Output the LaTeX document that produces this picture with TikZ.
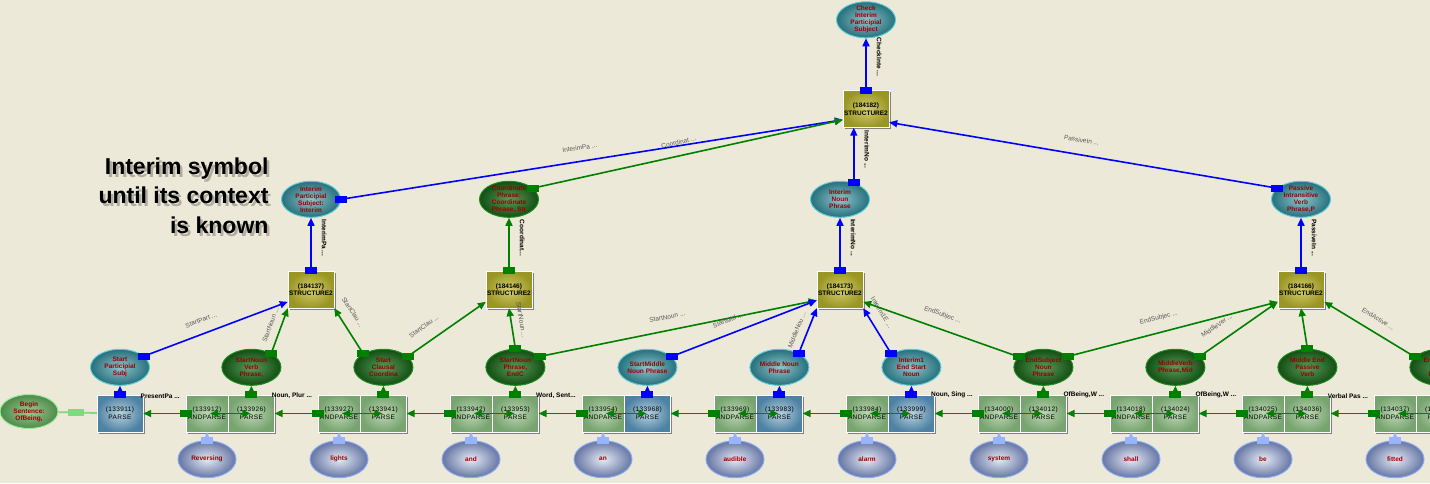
\documentclass[tikz,border=0pt]{standalone}
\usepackage{fontspec}
\setmainfont{Liberation Sans}
\usetikzlibrary{arrows.meta,positioning,shadows,shapes.geometric}
\definecolor{beige}{HTML}{ECE9D8}
\definecolor{tealin}{HTML}{8EC4CC}
\definecolor{tealout}{HTML}{26707C}
\definecolor{tealrim}{HTML}{5CCAD6}
\definecolor{greenin}{HTML}{5A9A5A}
\definecolor{greenout}{HTML}{134E13}
\definecolor{greenrim}{HTML}{1F8A1F}
\definecolor{wordin}{HTML}{E6EAF4}
\definecolor{wordout}{HTML}{6676A4}
\definecolor{wordrim}{HTML}{8AAAF2}
\definecolor{beginin}{HTML}{9CC894}
\definecolor{beginout}{HTML}{4E8A4A}
\definecolor{beginrim}{HTML}{98EC98}
\definecolor{olivein}{HTML}{D4CE6C}
\definecolor{oliveout}{HTML}{9A9624}
\definecolor{boxin}{HTML}{BCD6B4}
\definecolor{boxout}{HTML}{78A470}
\definecolor{steelin}{HTML}{B8D2DE}
\definecolor{steelout}{HTML}{4E82A4}
\definecolor{symred}{HTML}{990000}
\definecolor{linkblue}{HTML}{0000FF}
\definecolor{linkgreen}{HTML}{008000}
\definecolor{linksky}{HTML}{99B4FF}
\definecolor{linklime}{HTML}{80D880}
\newcommand{\tinyfont}{\fontsize{6.5}{7}\selectfont}
\newcommand{\boxfont}{\fontsize{6.5}{8}\selectfont\addfontfeature{LetterSpace=6}}

\begin{document}
\begin{tikzpicture}[x=1pt,y=-1pt,
  every node/.style={font=\tinyfont},
  parsebox/.style={rectangle,draw=white,shading=radial,inner color=boxin,outer color=boxout,
                   minimum width=46pt,minimum height=37pt,inner sep=0pt,align=center,font=\boxfont,
                   drop shadow={shadow xshift=1.5pt,shadow yshift=-1.5pt,fill=gray,opacity=1}},
  andbox/.style={parsebox,minimum width=42pt},
  bluebox/.style={parsebox,inner color=steelin,outer color=steelout},
  structbox/.style={parsebox,inner color=olivein,outer color=oliveout,
                    font=\fontsize{6.5}{7.5}\selectfont\bfseries},
  symbol/.style={ellipse,minimum width=59pt,minimum height=36pt,inner sep=-2pt,align=center,
                 text=symred,font=\tinyfont\bfseries,line width=1pt,shading=radial},
  tealsym/.style={symbol,draw=tealrim,inner color=tealin,outer color=tealout},
  greensym/.style={symbol,draw=greenrim,inner color=greenin,outer color=greenout},
  wordsym/.style={symbol,minimum width=58pt,minimum height=37pt,draw=wordrim,
                  inner color=wordin,outer color=wordout},
  blink/.style={draw=linkblue,line width=1.6pt,-{Triangle[length=8pt,width=7pt]}},
  glink/.style={blink,draw=linkgreen},
  skylink/.style={blink,draw=linksky,line width=1.8pt},
  limelink/.style={draw=linklime,line width=1.8pt},
  pairlink/.style={glink,{Triangle[length=8pt,width=7pt]}-{Triangle[length=8pt,width=7pt]},
                   shorten <=3pt,shorten >=1pt},
  bsq/.style={rectangle,fill=linkblue,minimum width=12pt,minimum height=7pt,inner sep=0pt},
  gsq/.style={bsq,fill=linkgreen},
  skysq/.style={bsq,fill=linksky},
  limesq/.style={bsq,fill=linklime,minimum width=8pt},
  slant/.style={sloped,text=black!65},
  vtag/.style={rotate=-90,anchor=south,inner sep=10pt,font=\tinyfont\bfseries},
  htag/.style={font=\tinyfont\bfseries}
]
  \useasboundingbox (0,0) rectangle (1430,483);
  \clip (0,0) rectangle (1430,483);
  \fill[beige] (0,0) rectangle (1430,483);

  % note
  \node[align=right,anchor=east,font=\fontsize{23}{29.5}\selectfont\bfseries,text=black,opacity=.25]
    (noteshade) at (274.5,198.5) {Interim symbol\\until its context\\is known};
  \node[align=right,anchor=east,font=\fontsize{23}{29.5}\selectfont\bfseries]
    (note) at (272,195.5) {Interim symbol\\until its context\\is known};

  % parse chain
  \node[symbol,draw=beginrim,inner color=beginin,outer color=beginout,minimum width=58pt,
        minimum height=34pt] (bsent) at (29,411.5) {Begin\\Sentence:\\OfBeing,};
  \node[bluebox] (p911) at (120,413.5) {(133911)\\PARSE};
  \node[andbox] (a912) at (207,413.5) {(133912)\\ANDPARSE};
  \node[parsebox,right=0pt of a912] (p926) {(133926)\\PARSE};
  \node[andbox] (a927) at (339,413.5) {(133927)\\ANDPARSE};
  \node[parsebox,right=0pt of a927] (p941) {(133941)\\PARSE};
  \node[andbox] (a942) at (471,413.5) {(133942)\\ANDPARSE};
  \node[parsebox,right=0pt of a942] (p953) {(133953)\\PARSE};
  \node[andbox] (a954) at (603,413.5) {(133954)\\ANDPARSE};
  \node[bluebox,right=0pt of a954] (p968) {(133968)\\PARSE};
  \node[andbox] (a969) at (735,413.5) {(133969)\\ANDPARSE};
  \node[bluebox,right=0pt of a969] (p983) {(133983)\\PARSE};
  \node[andbox] (a984) at (867,413.5) {(133984)\\ANDPARSE};
  \node[bluebox,right=0pt of a984] (p999) {(133999)\\PARSE};
  \node[andbox] (a000) at (999,413.5) {(134000)\\ANDPARSE};
  \node[parsebox,right=0pt of a000] (p012) {(134012)\\PARSE};
  \node[andbox] (a018) at (1131,413.5) {(134018)\\ANDPARSE};
  \node[parsebox,right=0pt of a018] (p024) {(134024)\\PARSE};
  \node[andbox] (a025) at (1263,413.5) {(134025)\\ANDPARSE};
  \node[parsebox,right=0pt of a025] (p036) {(134036)\\PARSE};
  \node[andbox] (a037) at (1395,413.5) {(134037)\\ANDPARSE};
  \node[parsebox,right=0pt of a037] (p049) {(134049)\\PARSE};

  % words
  \node[wordsym,below=8pt of a912] (wrev) {Reversing};
  \node[wordsym,below=8pt of a927] (wlig) {lights};
  \node[wordsym,below=8pt of a942] (wand) {and};
  \node[wordsym,below=8pt of a954] (wan) {an};
  \node[wordsym,below=8pt of a969] (waud) {audible};
  \node[wordsym,below=8pt of a984] (wala) {alarm};
  \node[wordsym,below=8pt of a000] (wsys) {system};
  \node[wordsym,below=8pt of a018] (wsha) {shall};
  \node[wordsym,below=8pt of a025] (wbe) {be};
  \node[wordsym,below=8pt of a037] (wfit) {fitted};

  % first symbols
  \node[tealsym,above=9pt of p911] (spsubj) {Start\\Participial\\Subj};
  \node[greensym,above=9pt of p926] (snvp) {StartNoun\\Verb\\Phrase,};
  \node[greensym,above=9pt of p941] (sclc) {Start\\Clausal\\Coordina};
  \node[greensym,above=9pt of p953] (snpe) {StartNoun\\Phrase,\\EndC};
  \node[tealsym,above=9pt of p968] (smnp) {StartMiddle\\Noun Phrase};
  \node[tealsym,above=9pt of p983] (mnp) {Middle Noun\\Phrase};
  \node[tealsym,above=9pt of p999] (iesn) {Interim1\\End Start\\Noun};
  \node[greensym,above=9pt of p012] (esnp) {EndSubject\\Noun\\Phrase};
  \node[greensym,above=9pt of p024] (mvp) {MiddleVerb\\Phrase,Mid};
  \node[greensym,above=9pt of p036] (mepv) {Middle End\\Passive\\Verb};
  \node[greensym,above=9pt of p049] (eavp) {EndActive\\Verb\\Phrase};

  % structures
  \node[structbox] (s137) at (311,289.5) {(184137)\\STRUCTURE2};
  \node[structbox] (s146) at (509,289.5) {(184146)\\STRUCTURE2};
  \node[structbox] (s173) at (840,289.5) {(184173)\\STRUCTURE2};
  \node[structbox] (s166) at (1301,289.5) {(184166)\\STRUCTURE2};
  \node[tealsym,above=53pt of s137] (ips) {Interim\\Participial\\Subject:\\Interim};
  \node[greensym,above=53pt of s146] (cph) {Coordinate\\Phrase:\\Coordinate\\Phrase, Str};
  \node[tealsym,above=53pt of s173] (inp) {Interim\\Noun\\Phrase};
  \node[tealsym,above=53pt of s166] (piv) {Passive\\Intransitive\\Verb\\Phrase,P};
  \node[structbox] (s182) at (866,109) {(184182)\\STRUCTURE2};
  \node[tealsym,above=52pt of s182] (chk) {Check\\Interim\\Participial\\Subject};

  % chain links
  \draw[limelink] (bsent) -- node[pos=.35,limesq]{} node[pos=.56,limesq]{} (p911);
  \draw[glink] (a912) -- node[pos=0,gsq]{} node[htag,pos=.6,above=11pt]{PresentPa ...} (p911);
  \draw[pairlink] (a912.center) -- (p926.center);
  \draw[glink] (a927) -- node[pos=0,gsq]{} node[htag,pos=.6,above=11pt]{Noun, Plur ...} (p926);
  \draw[pairlink] (a927.center) -- (p941.center);
  \draw[glink] (a942) -- node[pos=0,gsq]{} (p941);
  \draw[pairlink] (a942.center) -- (p953.center);
  \draw[glink] (a954) -- node[pos=0,gsq]{} node[htag,pos=.6,above=11pt]{Word, Sent...} (p953);
  \draw[pairlink] (a954.center) -- (p968.center);
  \draw[glink] (a969) -- node[pos=0,gsq]{} (p968);
  \draw[pairlink] (a969.center) -- (p983.center);
  \draw[glink] (a984) -- node[pos=0,gsq]{} (p983);
  \draw[pairlink] (a984.center) -- (p999.center);
  \draw[glink] (a000) -- node[pos=0,gsq]{} node[htag,pos=.6,above=11pt]{Noun, Sing ...} (p999);
  \draw[pairlink] (a000.center) -- (p012.center);
  \draw[glink] (a018) -- node[pos=0,gsq]{} node[htag,pos=.6,above=11pt]{OfBeing,W ...} (p012);
  \draw[pairlink] (a018.center) -- (p024.center);
  \draw[glink] (a025) -- node[pos=0,gsq]{} node[htag,pos=.6,above=11pt]{OfBeing,W ...} (p024);
  \draw[pairlink] (a025.center) -- (p036.center);
  \draw[glink] (a037) -- node[pos=0,gsq]{} node[htag,pos=.6,above=11pt]{Verbal Pas ...} (p036);
  \draw[pairlink] (a037.center) -- (p049.center);

  % words into andparse
  \draw[skylink] (wrev) -- node[pos=0,skysq]{} (a912);
  \draw[skylink] (wlig) -- node[pos=0,skysq]{} (a927);
  \draw[skylink] (wand) -- node[pos=0,skysq]{} (a942);
  \draw[skylink] (wan) -- node[pos=0,skysq]{} (a954);
  \draw[skylink] (waud) -- node[pos=0,skysq]{} (a969);
  \draw[skylink] (wala) -- node[pos=0,skysq]{} (a984);
  \draw[skylink] (wsys) -- node[pos=0,skysq]{} (a000);
  \draw[skylink] (wsha) -- node[pos=0,skysq]{} (a018);
  \draw[skylink] (wbe) -- node[pos=0,skysq]{} (a025);
  \draw[skylink] (wfit) -- node[pos=0,skysq]{} (a037);

  % parse into symbols
  \draw[blink] (p911) -- node[pos=0,bsq]{} (spsubj);
  \draw[glink] (p926) -- node[pos=0,gsq]{} (snvp);
  \draw[glink] (p941) -- node[pos=0,gsq]{} (sclc);
  \draw[glink] (p953) -- node[pos=0,gsq]{} (snpe);
  \draw[blink] (p968) -- node[pos=0,bsq]{} (smnp);
  \draw[blink] (p983) -- node[pos=0,bsq]{} (mnp);
  \draw[blink] (p999) -- node[pos=0,bsq]{} (iesn);
  \draw[glink] (p012) -- node[pos=0,gsq]{} (esnp);
  \draw[glink] (p024) -- node[pos=0,gsq]{} (mvp);
  \draw[glink] (p036) -- node[pos=0,gsq]{} (mepv);
  \draw[glink] (p049) -- node[pos=0,gsq]{} (eavp);

  % symbols into structures
  \draw[blink] (spsubj.25) -- node[pos=0,bsq]{} node[slant,pos=.43,above=7pt]{StartPart ...} (s137.208);
  \draw[glink] (snvp.35) -- node[pos=0,gsq]{} node[slant,pos=.55,above=4pt]{StartNoun ...} (s137.south west);
  \draw[glink] (sclc.146) -- node[pos=0,gsq]{} node[slant,pos=.75,above=7pt]{StartClau ...} (s137.south east);
  \draw[glink] (sclc.24) -- node[pos=0,gsq]{} node[slant,pos=.32,above=9pt]{StartClau ...} (s146.208);
  \draw[glink] (snpe.north) -- node[pos=0,gsq]{} node[slant,pos=.67,above=4pt]{StartNoun ...} (s146.south);
  \draw[glink] (snpe.24) -- node[pos=0,gsq]{} node[slant,pos=.47,above=7pt]{StartNoun ...} (s173.205);
  \draw[blink] (smnp.24) -- node[pos=0,bsq]{} node[slant,pos=.42,above=7pt]{StartMid ...} (s173.205);
  \draw[blink] (mnp.36) -- node[pos=0,bsq]{} node[slant,pos=.43,above=4pt]{MiddleNou ...} (s173.south west);
  \draw[blink] (iesn.146) -- node[pos=0,bsq]{} node[slant,pos=.75,above=7pt]{Interim1E ...} (s173.south east);
  \draw[glink] (esnp.157) -- node[pos=0,gsq]{} node[slant,pos=.52,above=7pt]{EndSubjec ...} (s173.-28);
  \draw[glink] (esnp.24) -- node[pos=0,gsq]{} node[slant,pos=.45,above=7pt]{EndSubjec ...} (s166.208);
  \draw[glink] (mvp.24) -- node[pos=0,gsq]{} node[slant,pos=.33,above=9pt]{MiddleVer ...} (s166.208);
  \draw[glink] (mepv.north) -- node[pos=0,gsq]{} (s166.south);
  \draw[glink] (eavp.157) -- node[pos=0,gsq]{} node[slant,pos=.48,above=7pt]{EndActive ...} (s166.-28);

  % structures into interim symbols
  \draw[blink] (s137) -- node[pos=0,bsq]{} node[vtag,pos=.62]{InterimPa ...} (ips);
  \draw[glink] (s146) -- node[pos=0,gsq]{} node[vtag,pos=.62]{Coordinat...} (cph);
  \draw[blink] (s173) -- node[pos=0,bsq]{} node[vtag,pos=.62]{InterimNo ...} (inp);
  \draw[blink] (s166) -- node[pos=0,bsq]{} node[vtag,pos=.62]{PassiveIn ...} (piv);

  % top structure
  \draw[blink] (ips.east) -- node[pos=0,bsq]{} node[slant,pos=.48,above=7pt]{InterimPa ...} (s182.205);
  \draw[glink] (cph.25) -- node[pos=0,gsq]{} node[slant,pos=.48,above=7pt]{Coordinat ...} (s182.205);
  \draw[blink] (inp.50) -- node[pos=0,bsq]{} node[vtag,pos=.6]{InterimNo ...} (inp.50 |- s182.south);
  \draw[blink] (piv.155) -- node[pos=0,bsq]{} node[slant,pos=.51,above=8pt]{PassiveIn ...} (s182.-30);
  \draw[blink] (s182) -- node[pos=0,bsq]{} node[vtag,pos=.64]{CheckInte ...} (chk);
\end{tikzpicture}
\end{document}
